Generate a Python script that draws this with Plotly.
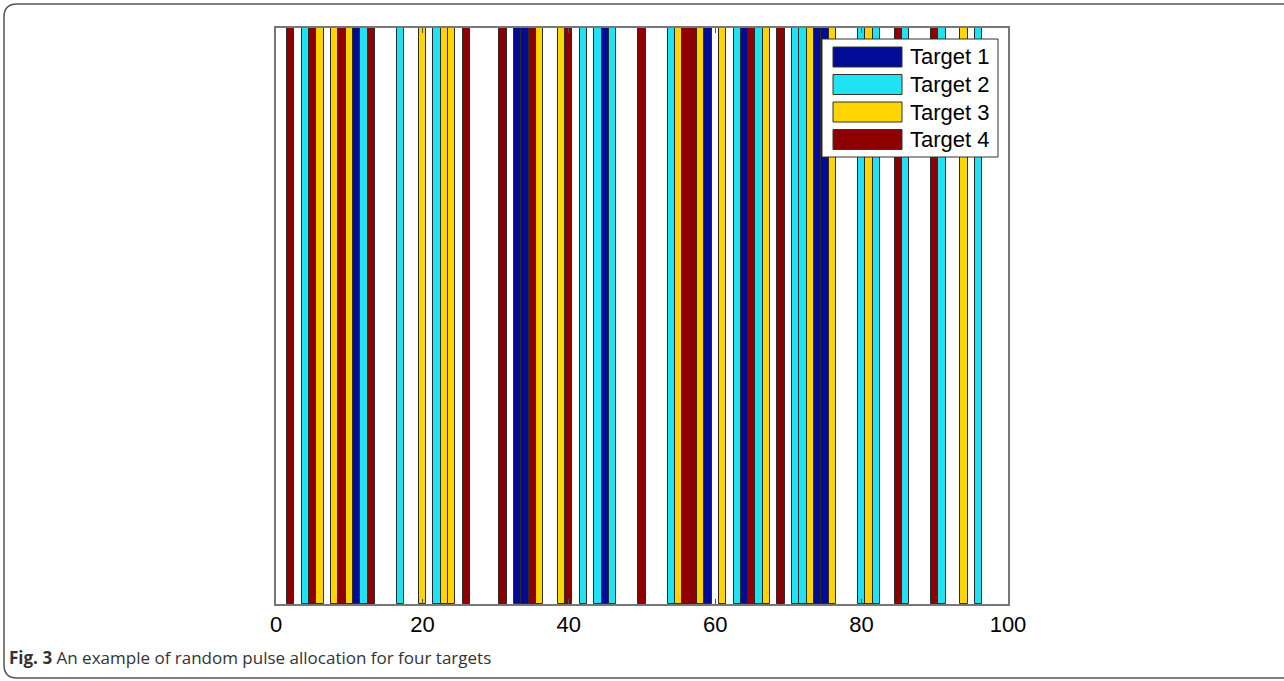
import plotly.graph_objects as go

# ---- data ----
series_names = ["Target 1", "Target 2", "Target 3", "Target 4"]
target1_pulses = [11, 33, 34, 45, 59, 64, 74, 75]
target2_pulses = [4, 12, 17, 22, 42, 44, 46, 54, 63, 66, 71, 72, 80, 82, 86, 91, 96]
target3_pulses = [6, 8, 10, 20, 23, 24, 36, 39, 55, 58, 61, 67, 73, 76, 81, 94]
target4_pulses = [2, 5, 9, 13, 26, 31, 35, 40, 50, 56, 57, 65, 69, 85, 90]
x_tick_values = [0, 20, 40, 60, 80, 100]
x_tick_labels = ["0", "20", "40", "60", "80", "100"]
caption_bold = "Fig. 3"
caption_text = "An example of random pulse allocation for four targets"

colors = ["#000c96", "#1fe3f2", "#ffd500", "#8e0000"]
all_pulses = [target1_pulses, target2_pulses, target3_pulses, target4_pulses]

W, H = 1284, 681
L, R, T, B = 276, 1008, 28, 604

def px(x):
    return (x - L) / (R - L)

def py(y):
    return (B - y) / (B - T)

fig = go.Figure()
for name, pulses, col in zip(series_names, all_pulses, colors):
    fig.add_trace(go.Bar(
        x=pulses, y=[1] * len(pulses), name=name, width=1,
        marker=dict(color=col, line=dict(color="#2a2a2a", width=1)),
        showlegend=False,
    ))

shapes = []
annotations = []

# legend box (decoration)
shapes.append(dict(type="rect", xref="paper", yref="paper",
                   x0=px(822), x1=px(998), y0=py(157), y1=py(39),
                   fillcolor="white", line=dict(color="#333333", width=1), layer="above"))
row_centers = [57, 84.5, 112, 139.5]
for name, col, yc in zip(series_names, colors, row_centers):
    shapes.append(dict(type="rect", xref="paper", yref="paper",
                       x0=px(833), x1=px(902), y0=py(yc + 10), y1=py(yc - 10),
                       fillcolor=col, line=dict(color="#333333", width=1), layer="above"))
    annotations.append(dict(xref="paper", yref="paper", x=px(908), y=py(yc),
                            xanchor="left", yanchor="middle", showarrow=False,
                            text=name, font=dict(family="Liberation Sans, Arial", size=22, color="black")))

# outer rounded frame
path = (f"M {px(1300)},{py(4)} L {px(17)},{py(4)} Q {px(4)},{py(4)} {px(4)},{py(17)} "
        f"L {px(4)},{py(665)} Q {px(4)},{py(678)} {px(17)},{py(678)} L {px(1300)},{py(678)}")
shapes.append(dict(type="path", xref="paper", yref="paper", path=path,
                   line=dict(color="#555555", width=1.5)))

annotations.append(dict(xref="paper", yref="paper", x=px(7), y=py(657),
                        xanchor="left", yanchor="middle", showarrow=False,
                        text=f"<b>{caption_bold}</b> {caption_text}",
                        font=dict(family="Open Sans", size=17, color="#333333")))

fig.update_layout(
    width=W, height=H,
    margin=dict(l=L, r=W - R, t=T, b=H - B),
    paper_bgcolor="white", plot_bgcolor="white",
    barmode="overlay", bargap=0,
    shapes=shapes, annotations=annotations,
    xaxis=dict(range=[0, 100], tickvals=x_tick_values, ticktext=x_tick_labels,
               ticks="inside", ticklen=5, tickcolor="#555555",
               showline=True, linecolor="#777777", linewidth=1.5, mirror="ticks",
               showgrid=False, zeroline=False,
               tickfont=dict(family="Liberation Sans, Arial", size=22, color="black")),
    yaxis=dict(range=[0, 1], showticklabels=False, ticks="",
               showline=True, linecolor="#777777", linewidth=1.5, mirror=True,
               showgrid=False, zeroline=False),
)

fig.write_html("out.html", config={"displayModeBar": False},
               post_script="document.body.style.margin='0px';document.body.style.overflow='hidden';")
